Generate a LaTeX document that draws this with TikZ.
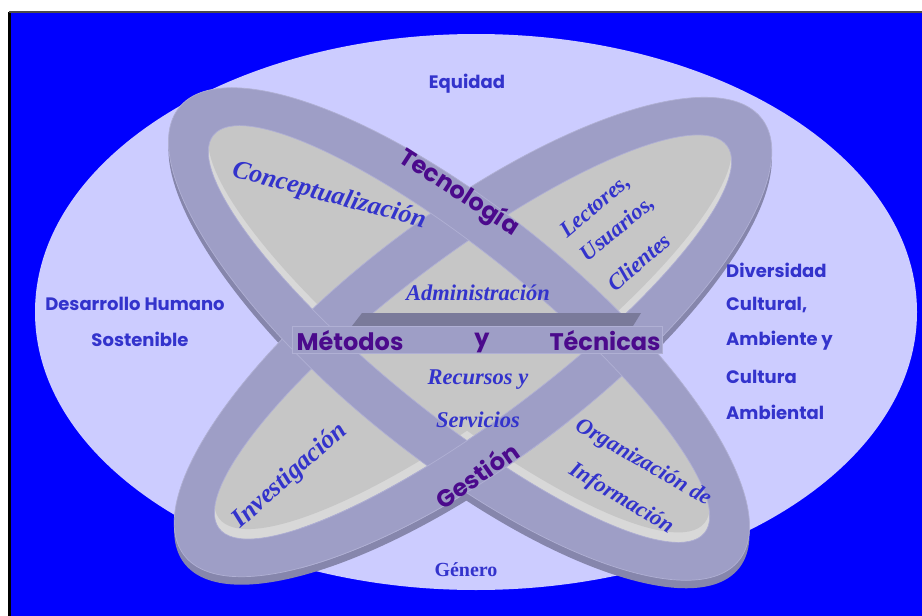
\documentclass[tikz,border=0pt]{standalone}
\usepackage{fontspec}
\setmainfont{Liberation Serif}
\newfontfamily\comicf{Poppins}
\definecolor{bgblue}{RGB}{0,0,255}
\definecolor{lav}{RGB}{204,204,255}
\definecolor{band}{RGB}{158,158,198}
\definecolor{bandsh}{RGB}{134,134,172}
\definecolor{bandedge}{RGB}{176,176,212}
\definecolor{plate}{RGB}{198,198,198}
\definecolor{plateside}{RGB}{216,216,216}
\definecolor{bartop}{RGB}{122,122,154}
\definecolor{txtblue}{RGB}{51,51,204}
\definecolor{txtdark}{RGB}{75,10,140}
\newcommand\rellpath[5]{(#1,#2) ellipse [x radius=#4, y radius=#5]}
\tikzset{
  comictxt/.style={font=\comicf\bfseries\fontsize{18}{18}\selectfont, text=txtblue, inner sep=0pt},
  darktxt/.style={font=\comicf\bfseries\fontsize{24}{24}\selectfont, text=txtdark, inner sep=0pt},
  itxt/.style={font=\bfseries\itshape\fontsize{22.5}{22.5}\selectfont, text=txtblue, inner sep=0pt},
  bigitxt/.style={font=\bfseries\itshape\fontsize{26}{26}\selectfont, text=txtblue, inner sep=0pt},
  rtxt/.style={font=\bfseries\fontsize{20}{20}\selectfont, text=txtblue, inner sep=0pt},
}
\begin{document}
\begin{tikzpicture}[x=1pt,y=-1pt]
\useasboundingbox (0,0) rectangle (922,616);
\fill[white] (0,0) rectangle (922,616);
\fill[bgblue] (10,12) rectangle (922,616);
\draw[black, line width=3pt] (9.5,616) -- (9.5,12);
\draw[black!70, line width=2pt] (9,12) -- (922,12);
% big ellipse
\fill[lav] (476,312) ellipse [x radius=441, y radius=278];
% ring shadows (side of rings)
\fill[bandsh, rotate around={-39:(459,342)}] \rellpath{459}{342}{}{360}{124};
\fill[bandsh, rotate around={37:(473,345)}] \rellpath{473}{345}{}{362}{125};
% plates: side colour then top face
\fill[plateside, rotate around={-39:(459,334)}] \rellpath{459}{334}{}{316}{80};
\fill[plateside, rotate around={37:(473,337)}] \rellpath{473}{337}{}{318}{81};
\begin{scope}
  \clip[rotate around={-39:(459,334)}] \rellpath{459}{334}{}{316}{80};
  \fill[plate, rotate around={-39:(459,324)}] \rellpath{459}{324}{}{316}{80};
\end{scope}
\begin{scope}
  \clip[rotate around={37:(473,337)}] \rellpath{473}{337}{}{318}{81};
  \fill[plate, rotate around={37:(473,327)}] \rellpath{473}{327}{}{318}{81};
\end{scope}
% bands
\fill[band, even odd rule, draw=bandedge, line width=0.7pt, rotate around={37:(473,337)}]
  \rellpath{473}{337}{}{362}{125} \rellpath{473}{337}{}{318}{81};
\fill[band, even odd rule, draw=bandedge, line width=0.7pt, rotate around={-39:(459,334)}]
  \rellpath{459}{334}{}{360}{124} \rellpath{459}{334}{}{316}{80};
\begin{scope}
  \clip (300,420) rectangle (660,616);
  \fill[band, even odd rule, draw=bandedge, line width=0.7pt, rotate around={37:(473,337)}]
    \rellpath{473}{337}{}{362}{125} \rellpath{473}{337}{}{318}{81};
\end{scope}
% bar
\fill[bartop] (362,313) -- (641,313) -- (633,326) -- (352,326) -- cycle;
\fill[band, draw=bandedge, line width=0.7pt] (292,326) rectangle (662,353);
% outer texts
\node[comictxt] (equidad) at (467,84) {Equidad};
\node[comictxt] (desarrollo) at (135,304) {Desarrollo Humano};
\node[comictxt] (sostenible) at (140,339) {Sostenible};
\node[comictxt, anchor=west] (diversidad) at (726,270) {Diversidad};
\node[comictxt, anchor=west] (cultural) at (726,305) {Cultural,};
\node[comictxt, anchor=west] (ambiente) at (726,341) {Ambiente y};
\node[comictxt, anchor=west] (cultura) at (726,377) {Cultura};
\node[comictxt, anchor=west] (ambiental) at (726,412) {Ambiental};
\node[rtxt] (genero) at (466,570) {Género};
% inner italic texts
\node[bigitxt, rotate=-15] (concept) at (329,196) {Conceptualización};
\node[itxt, rotate=40] (lectores) at (596,207) {Lectores,};
\node[itxt, rotate=40] (usuarios) at (618,229) {Usuarios,};
\node[itxt, rotate=40] (clientes) at (639,262) {Clientes};
\node[itxt] (admin) at (478,293) {Administración};
\node[itxt] (recursos) at (478,380) {Recursos y};
\node[itxt] (servicios) at (478,420) {Servicios};
\node[bigitxt, rotate=42] (invest) at (290,476) {Investigación};
\node[itxt, rotate=-30] (organiz) at (643,463) {Organización de};
\node[itxt, rotate=-31] (informacion) at (621,499) {Información};
% dark texts
\node[darktxt, rotate=-33] (tecnologia) at (459,193) {Tecnología};
\node[darktxt] (metodos) at (350,341) {Métodos};
\node[darktxt] (y) at (482,343) {y};
\node[darktxt] (tecnicas) at (605,341) {Técnicas};
\node[darktxt, rotate=35] (gestion) at (477,475) {Gestión};
\end{tikzpicture}
\end{document}
